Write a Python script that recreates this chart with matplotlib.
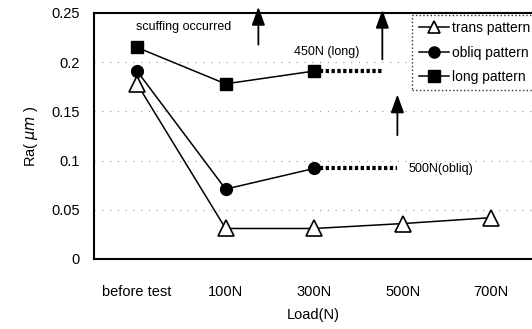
import numpy as np
import matplotlib.pyplot as plt

plt.rcParams['font.family'] = ['Liberation Sans', 'DejaVu Sans']

loads = ['before test', '100N', '300N', '500N', '700N']
trans = [0.178, 0.031, 0.031, 0.036, 0.042]
obliq = [0.191, 0.071, 0.092]
long_ = [0.215, 0.178, 0.191]

# where the dotted extensions end (x in category units) and the scuffing loads
long_end = 2.77
obliq_end = 2.94

x = np.arange(len(loads))

fig = plt.figure(figsize=(5.32, 3.29), dpi=100)
ax = fig.add_axes([0.1767, 0.2128, 0.8233, 0.7477])

ax.plot(x, trans, '-', color='black', lw=1.1, marker='^', ms=12,
        mfc='white', mec='black', mew=1.2, label='trans pattern')
ax.plot(x[:3], obliq, '-', color='black', lw=1.1, marker='o', ms=8.5,
        mfc='black', label='obliq pattern')
ax.plot(x[:3], long_, '-', color='black', lw=1.1, marker='s', ms=8.5,
        mfc='black', label='long pattern')

# dotted extensions towards scuffing loads
ax.plot([2, long_end], [long_[2], long_[2]], color='black', lw=3,
        linestyle=(0, (0.8, 0.6)))
ax.plot([2, obliq_end], [obliq[2], obliq[2]], color='black', lw=3,
        linestyle=(0, (0.8, 0.6)))

# scuffing arrows
arrows = [(1.37, 0.215, 0.259), (long_end, 0.200, 0.256), (obliq_end, 0.123, 0.170)]
for ax_x, y0, y1 in arrows:
    ax.annotate('', xy=(ax_x, y1), xytext=(ax_x, y0),
                arrowprops=dict(arrowstyle='-|>,head_width=0.4,head_length=1.1',
                                color='black', lw=1.3),
                annotation_clip=False)

ax.text(0.53, 0.236, 'scuffing occurred', ha='center', va='center', fontsize=9)
ax.text(1.77, 0.210, '450N (long)', ha='left', va='center', fontsize=9)
ax.text(3.06, 0.091, '500N(obliq)', ha='left', va='center', fontsize=9)

ax.set_xlim(-0.486, 4.46)
ax.set_ylim(0, 0.25)
ax.set_yticks([0, 0.05, 0.1, 0.15, 0.2, 0.25])
ax.set_yticklabels(['0', '0.05', '0.1', '0.15', '0.2', '0.25'])
ax.set_xticks(x)
ax.set_xticklabels(loads)
ax.tick_params(axis='both', labelsize=10.5, length=0)
ax.tick_params(axis='x', pad=19)
ax.tick_params(axis='y', pad=10)

ax.yaxis.grid(True, linestyle=(0, (1, 6)), color='#999999', lw=0.8)
for s in ['left', 'bottom', 'top']:
    ax.spines[s].set_linewidth(1.5)
ax.spines['right'].set_visible(False)

ax.set_xlabel('Load(N)', fontsize=10.5, labelpad=6)
ax.set_ylabel(r'Ra( $\mathit{\mu m}$ )', fontsize=10.5, labelpad=8)

leg = ax.legend(loc='upper left', bbox_to_anchor=(0.727, 0.992), fontsize=10,
                frameon=True, fancybox=False, handlelength=2.2,
                handletextpad=0.2, borderpad=0.45, labelspacing=0.75,
                borderaxespad=0)
frame = leg.get_frame()
frame.set_edgecolor('black')
frame.set_linestyle(':')
frame.set_linewidth(1.0)
for h in leg.legend_handles:
    h.set_markersize(8)

fig.savefig('out.png', dpi=100)
